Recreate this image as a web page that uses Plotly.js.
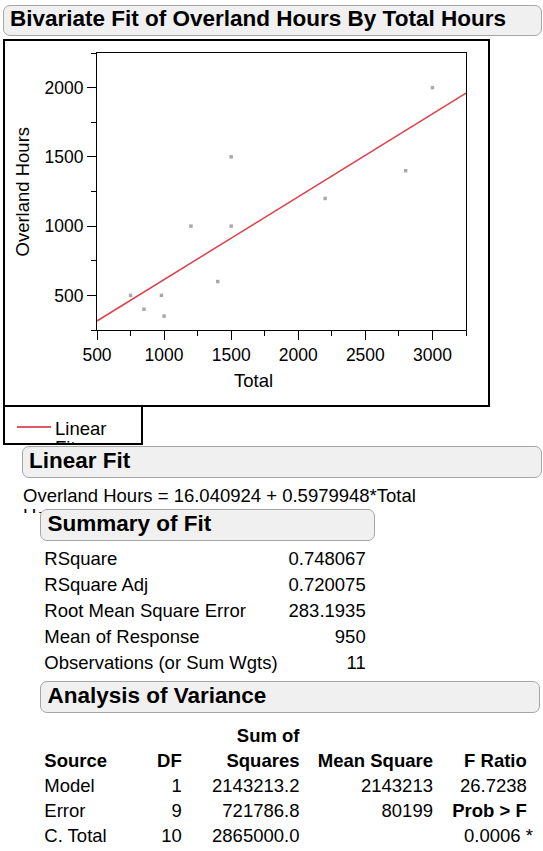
<!DOCTYPE html>
<html>
<head>
<meta charset="utf-8">
<script src="https://cdn.plot.ly/plotly-3.0.1.min.js"></script>
<style>
  html, body { margin: 0; padding: 0; background: #fff; }
  body { width: 543px; height: 851px; position: relative; overflow: hidden;
         font-family: "Liberation Sans", Arial, sans-serif; color: #000; }
  .abs { position: absolute; white-space: nowrap; }
  .bar { position: absolute; box-sizing: border-box; background: #f0f0f0;
         border: 1.5px solid #a6a6a6; border-radius: 7px; }
  .hdr { font-weight: bold; font-size: 22.5px; line-height: 24px; }
  .txt { font-size: 18.5px; line-height: 20px; }
  .b { font-weight: bold; }
  .frame { position: absolute; box-sizing: border-box; border: 2px solid #000; }
  #chart { position: absolute; left: 0; top: 0; width: 543px; height: 410px; }
</style>
</head>
<body>
<div id="page"></div>
<div id="chart"></div>
<script>
// ---------------- data ----------------
const totalHours    = [750, 850, 980, 1000, 1200, 1400, 1500, 1500, 2200, 2800, 3000];
const overlandHours = [500, 400, 500, 350, 1000, 600, 1000, 1500, 1200, 1400, 2000];
const fitX = [500, 3250];
const fitY = [315.04, 1959.52];
const reportTitle = "Bivariate Fit of Overland Hours By Total Hours";
const xTitle = "Total";
const yTitle = "Overland Hours";
const legendLabel = "Linear Fit";
const equationText = "Overland Hours = 16.040924 + 0.5979948*Total Hours";
const summaryLabels = ["RSquare", "RSquare Adj", "Root Mean Square Error", "Mean of Response", "Observations (or Sum Wgts)"];
const summaryValues = ["0.748067", "0.720075", "283.1935", "950", "11"];
const anovaSource = ["Model", "Error", "C. Total"];
const anovaDF = ["1", "9", "10"];
const anovaSS = ["2143213.2", "721786.8", "2865000.0"];
const anovaMS = ["2143213", "80199", ""];
const anovaF = ["26.7238", "Prob > F", "0.0006 *"];

// ---------------- page helpers ----------------
const page = document.getElementById('page');
function el(cls, style, text) {
  const d = document.createElement('div');
  d.className = cls;
  Object.assign(d.style, style);
  if (text !== undefined) d.textContent = text;
  page.appendChild(d);
  return d;
}
function tl(x, yc, text, bold) {
  return el('abs txt' + (bold ? ' b' : ''), { left: x + 'px', top: (yc - 10) + 'px' }, text);
}
function tr(xr, yc, text, bold) {
  return el('abs txt' + (bold ? ' b' : ''), { left: (xr - 300) + 'px', top: (yc - 10) + 'px', width: '300px', textAlign: 'right' }, text);
}
function bar(x0, y0, x1, y1, text, tx) {
  const b = el('bar', { left: x0 + 'px', top: y0 + 'px', width: (x1 - x0) + 'px', height: (y1 - y0) + 'px' });
  const yc = (y0 + y1) / 2 - 1;
  el('abs hdr', { left: tx + 'px', top: (yc - 12) + 'px' }, text);
  return b;
}

// title bar
bar(3, 4.5, 541.5, 35.5, reportTitle, 10);
// outer frame around plot
el('frame', { left: '3px', top: '39px', width: '487px', height: '367.5px' });
// legend box
const lg = el('frame', { left: '3px', top: '404.5px', width: '140px', height: '40.5px', overflow: 'hidden' });
const lgLine = document.createElement('div');
Object.assign(lgLine.style, { position: 'absolute', left: '12px', top: '19.5px', width: '34px', height: '2px', background: 'rgb(224,88,98)' });
lg.appendChild(lgLine);
const lgText = document.createElement('div');
lgText.className = 'txt';
lgText.textContent = legendLabel;
Object.assign(lgText.style, { position: 'absolute', left: '50px', top: '12px', width: '60px', lineHeight: '19px', whiteSpace: 'normal' });
lg.appendChild(lgText);

// Linear Fit section
bar(22, 446, 541.5, 477.5, "Linear Fit", 29);
el('abs txt', { left: '23px', top: '485.7px', width: '405px', height: '27.5px', overflow: 'hidden', whiteSpace: 'normal' }, equationText);

// Summary of Fit
bar(40, 509, 374.5, 541, "Summary of Fit", 47.5);
summaryLabels.forEach((s, i) => {
  const yc = 559 + i * 26;
  tl(44.3, yc, s);
  tr(365.7, yc, summaryValues[i]);
});

// Analysis of Variance
bar(40, 681, 539.5, 713, "Analysis of Variance", 47.5);
tr(299.5, 735.5, "Sum of", true);
tl(44.3, 761, "Source", true);
tr(181.7, 761, "DF", true);
tr(299.5, 761, "Squares", true);
tr(433, 761, "Mean Square", true);
tr(526.8, 761, "F Ratio", true);
anovaSource.forEach((s, i) => {
  const yc = 786 + i * 25;
  tl(44.3, yc, s);
  tr(181.7, yc, anovaDF[i]);
  tr(299.5, yc, anovaSS[i]);
  tr(433, yc, anovaMS[i]);
  if (i === 2) tr(533, yc, anovaF[i]);
  else tr(526.8, yc, anovaF[i], i === 1);
});

// ---------------- chart ----------------
const fontFam = '"Liberation Sans", Arial, sans-serif';
const axisCommon = {
  showgrid: false, zeroline: false, showline: true, linecolor: '#000', linewidth: 1,
  mirror: true, ticks: 'outside', ticklen: 9, tickwidth: 1, tickcolor: '#000',
  tickfont: { family: fontFam, size: 17.5, color: '#000' },
  minor: { dtick: 250, ticks: 'outside', ticklen: 5, tickwidth: 1, tickcolor: '#000', showgrid: false }
};
const data = [
  {
    x: totalHours, y: overlandHours, type: 'scatter', mode: 'markers',
    marker: { symbol: 'square', size: 3.5, color: '#a9a9a9', line: { width: 0 } },
    hoverinfo: 'skip', showlegend: false
  },
  {
    x: fitX, y: fitY, type: 'scatter', mode: 'lines',
    line: { color: 'rgb(222,64,74)', width: 1.5 },
    hoverinfo: 'skip', showlegend: false
  }
];
const layout = {
  width: 543, height: 410,
  margin: { l: 97, r: 77, t: 53, b: 80, pad: 0 },
  paper_bgcolor: 'rgba(0,0,0,0)', plot_bgcolor: '#fff',
  font: { family: fontFam, size: 18, color: '#000' },
  showlegend: false,
  xaxis: Object.assign({}, axisCommon, { range: [500, 3250], tick0: 500, dtick: 500 }),
  yaxis: Object.assign({}, axisCommon, { range: [250, 2250], tick0: 500, dtick: 500 }),
  annotations: [
    { text: xTitle, xref: 'paper', yref: 'paper', x: 0, y: 0, xshift: 156, yshift: -50,
      xanchor: 'center', yanchor: 'middle', showarrow: false, font: { size: 18.5 } },
    { text: yTitle, xref: 'paper', yref: 'paper', x: 0, y: 0.5, xshift: -75,
      xanchor: 'center', yanchor: 'middle', textangle: -90, showarrow: false, font: { size: 18.5 } }
  ]
};
Plotly.newPlot('chart', data, layout, { displayModeBar: false, staticPlot: true });
</script>
</body>
</html>
